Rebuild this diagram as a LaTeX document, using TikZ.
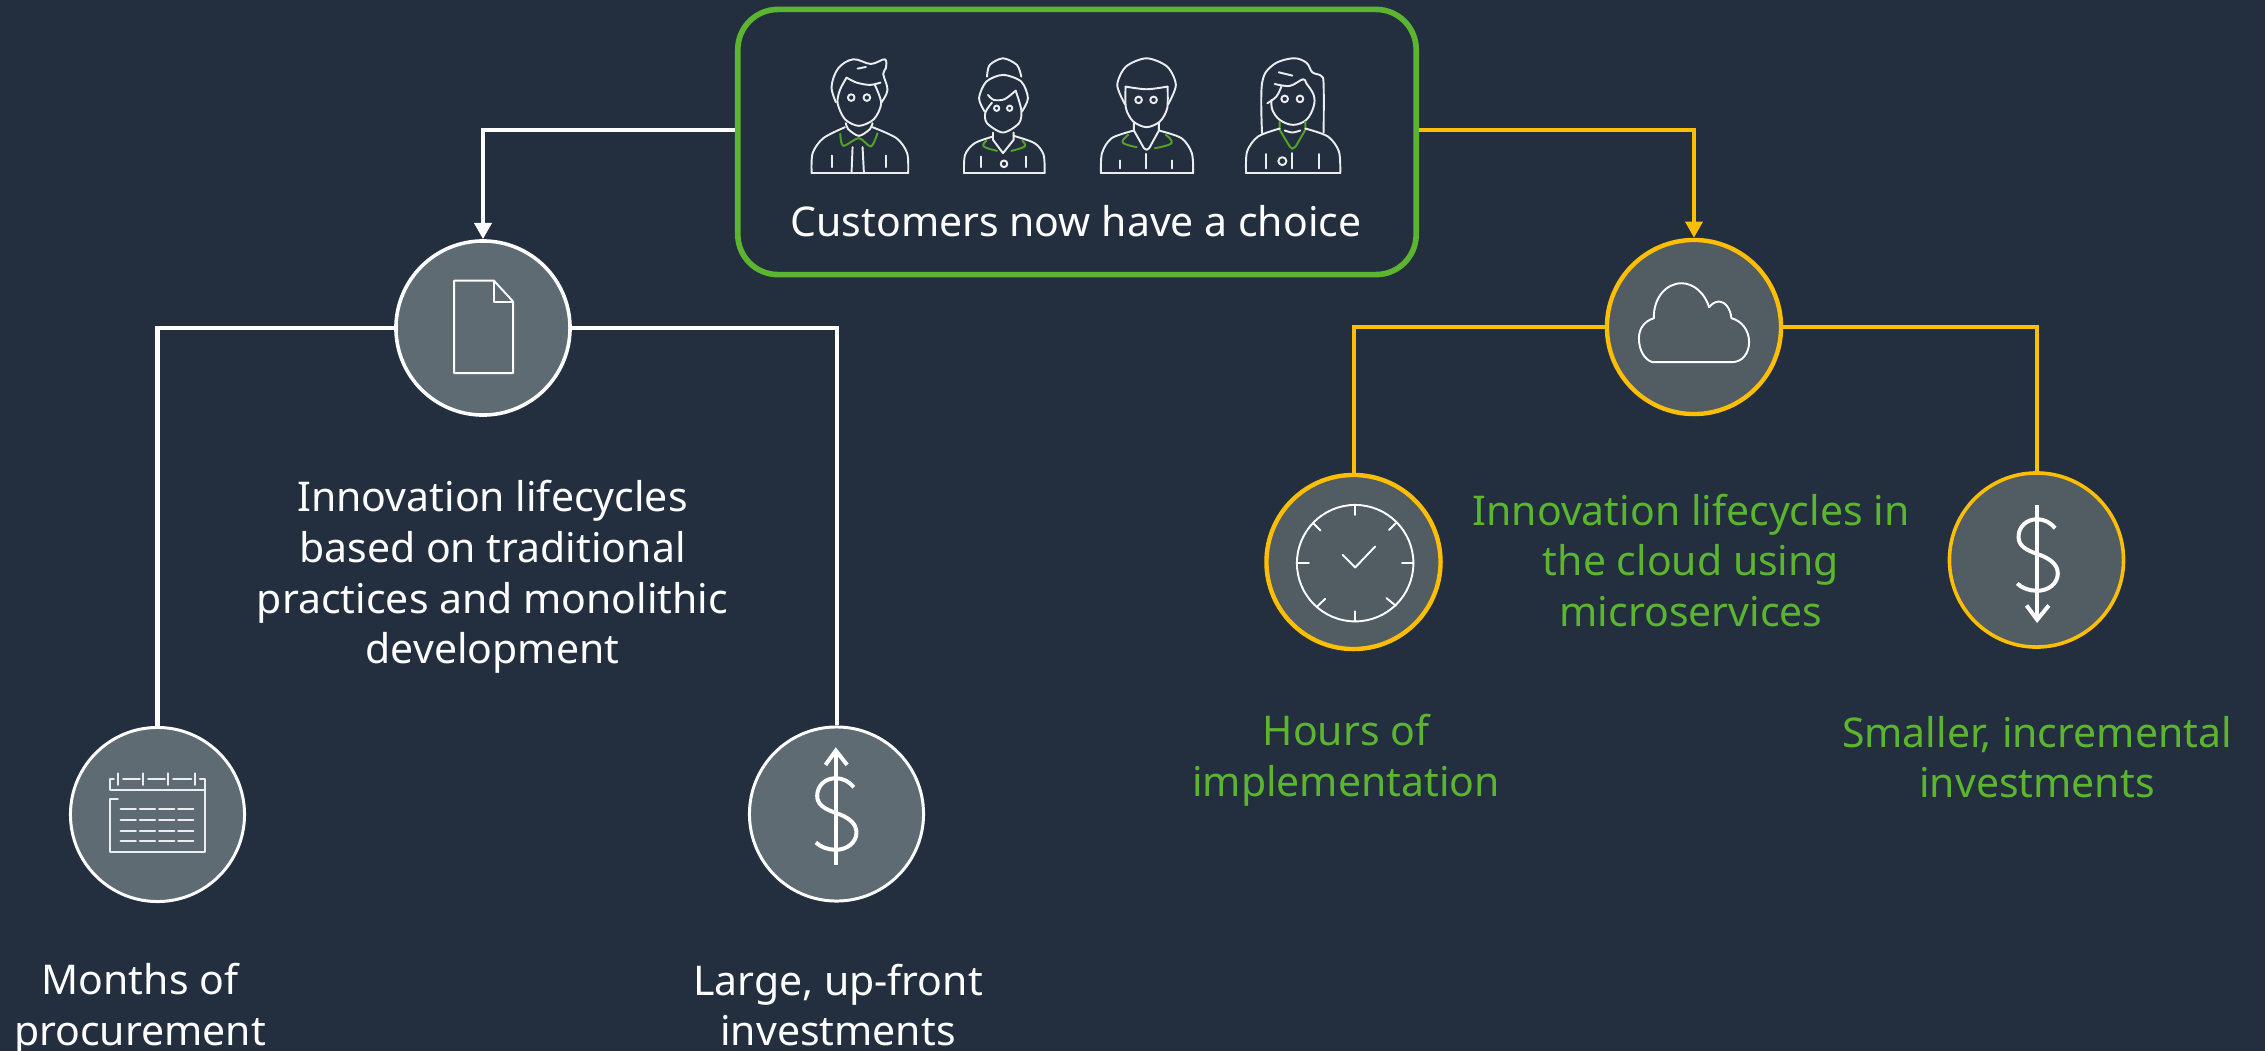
\documentclass[tikz,border=0pt]{standalone}
\usepackage{fontspec}
\setmainfont{Noto Sans}
\usetikzlibrary{arrows.meta}
\definecolor{bgink}{HTML}{232F3E}
\definecolor{awsgreen}{HTML}{5CB52F}
\definecolor{awsyellow}{HTML}{FFBE00}
\definecolor{discleft}{HTML}{5F6B73}
\definecolor{discright}{HTML}{525C63}
\definecolor{iconwhite}{HTML}{EBEDEF}
\tikzset{
  whiteline/.style={draw=white, line width=1.14pt},
  yellowline/.style={draw=awsyellow, line width=1.14pt},
  tipped/.style={-{Triangle[length=4.6pt,width=4.8pt]}},
  whitedisc/.style={circle, draw=white, fill=discleft, line width=1.02pt, minimum size=1.74cm, inner sep=0pt},
  yellowdisc/.style={circle, draw=awsyellow, fill=discright, line width=1.25pt, minimum size=1.74cm, inner sep=0pt},
  caption/.style={align=center, font=\fontsize{11.65}{14.4}\selectfont, inner sep=0pt},
  iconline/.style={draw=iconwhite, line width=0.55pt, line cap=round, line join=round},
  thickicon/.style={draw=white, line width=1.14pt},
  greenicon/.style={draw=awsgreen!90!black, line width=0.55pt, line cap=round, line join=round},
  zoomed/.style={x=0.00333cm,y=-0.00333cm}
}
\begin{document}
\begin{tikzpicture}[x=0.01cm,y=-0.01cm]
      \useasboundingbox (0,0) rectangle (2265,1051);
      \fill[bgink] (0,0) rectangle (2265,1051);
      % box and discs
      \node[draw=awsgreen, line width=1.6pt, rounded corners=11.4pt, minimum width=6.78cm, minimum height=2.65cm] (choicebox) at (1077,142) {};
      \node[whitedisc] (docdisc) at (483,328) {};
      \node[whitedisc, line width=0.85pt] (caldisc) at (157.5,814.5) {};
      \node[whitedisc, line width=0.85pt] (updisc) at (836.5,814) {};
      \node[yellowdisc] (clouddisc) at (1694,327) {};
      \node[yellowdisc] (clockdisc) at (1353.5,562) {};
      \node[yellowdisc, line width=1.02pt] (downdisc) at (2036.5,560) {};
      % connectors
      \draw[whiteline, tipped] (choicebox.west |- 0,130) -| (docdisc.north);
      \draw[whiteline] (docdisc.west) -| (caldisc.north);
      \draw[whiteline] (docdisc.east) -| (updisc.north);
      \draw[yellowline, tipped] (choicebox.east |- 0,130) -| (clouddisc.north);
      \draw[yellowline] (clouddisc.west) -| (clockdisc.north);
      \draw[yellowline] (clouddisc.east) -| (downdisc.north);
      % texts
      \node[caption, text=white] (choicetext) at (1076,221) {Customers now have a choice};
      \node[caption, text=white] (lefttext) at (492.5,577) {Innovation lifecycles\\based on traditional\\practices and monolithic\\development};
      \node[caption, text=awsgreen] (righttext) at (1691,560.5) {Innovation lifecycles in\\the cloud using\\microservices};
      \node[caption, text=white] (monthstext) at (140,1009) {Months of\\procurement};
      \node[caption, text=white] (largetext) at (838,1005) {Large, up-front\\investments};
      \node[caption, text=awsgreen] (hourstext) at (1346,760) {Hours of\\implementation};
      \node[caption, text=awsgreen] (smalltext) at (2037,757) {Smaller, incremental\\investments};
      % first person
      \begin{scope}[shift={(790,40)},zoomed]
        \draw[iconline] (65,400) -- (355,400);
        \draw[iconline] plot[smooth] coordinates {(65,400) (68,340) (100,295) (165,262)};
        \draw[iconline] plot[smooth] coordinates {(355,400) (352,340) (320,295) (248,262)};
        \draw[iconline] plot[smooth] coordinates {(168,250) (175,268) (207,288) (240,268) (248,250)};
        \draw[iconline] plot[smooth] coordinates {(170,113) (150,150) (143,190) (165,238) (207,258) (252,238) (274,190) (255,135)};
        \draw[iconline] plot[smooth] coordinates {(170,113) (200,128) (240,135) (272,128)};
        \draw[iconline] plot[smooth,tension=.6] coordinates {(138,187) (125,140) (145,85) (190,58) (243,72) (285,58) (288,85) (280,102) (293,150) (275,187)};
        \draw[iconline] (203,86) -- (228,81);
        \draw[iconline] (184,173) circle (10) (231,173) circle (10);
        \draw[greenicon] plot[smooth,tension=.5] coordinates {(151,282) (160,318) (207,295) (243,320) (263,280)};
        \draw[iconline] (188,322) -- (185,398) (218,322) -- (222,398);
        \draw[iconline] (126,347) -- (126,382) (289,347) -- (289,382);
      % second person
        \draw[iconline] plot[smooth] coordinates {(592,110) (600,75) (640,55) (682,75) (695,110)};
        \draw[iconline] plot[smooth] coordinates {(585,215) (568,175) (590,125) (640,105) (695,125) (715,175) (697,215)};
        \draw[iconline] plot[smooth] coordinates {(607,188) (587,218) (592,250) (640,278) (688,250) (695,210) (678,152)};
        \draw[iconline] plot[smooth] coordinates {(595,165) (612,180) (645,178) (678,152)};
        \draw[iconline] (621,205) circle (8) (660,205) circle (8);
        \draw[iconline] (610,278) -- (610,300) -- (640,340) -- (672,300) -- (672,278);
        \draw[iconline] (523,400) -- (765,400);
        \draw[iconline] plot[smooth] coordinates {(523,400) (526,345) (555,310) (610,290)};
        \draw[iconline] plot[smooth] coordinates {(765,400) (762,345) (735,310) (672,288)};
        \draw[greenicon] plot[smooth,tension=.7] coordinates {(590,303) (582,320) (622,333)};
        \draw[greenicon] plot[smooth,tension=.7] coordinates {(698,303) (705,320) (665,333)};
        \draw[iconline] (573,350) -- (573,382) (708,350) -- (708,382);
        \draw[iconline] (643,372) circle (10);
      \end{scope}
      % third and fourth person
      \begin{scope}[shift={(1090,40)},zoomed]
        \draw[iconline] plot[smooth] coordinates {(105,193) (82,135) (108,80) (170,55) (232,80) (258,135) (235,193)};
        \draw[iconline] plot[smooth] coordinates {(107,140) (170,148) (233,140)};
        \draw[iconline] plot[smooth] coordinates {(107,140) (108,205) (130,245) (170,262) (210,245) (232,205) (233,140)};
        \draw[iconline] (146,180) circle (10) (191,180) circle (10);
        \draw[iconline] (132,250) -- (132,272) -- (162,325) -- (170,330) -- (178,325) -- (207,272) -- (207,250);
        \draw[iconline] (33,400) -- (310,400);
        \draw[iconline] plot[smooth] coordinates {(33,400) (36,340) (65,295) (132,272)};
        \draw[iconline] plot[smooth] coordinates {(310,400) (306,340) (275,295) (207,272)};
        \draw[greenicon] plot[smooth,tension=.7] coordinates {(115,285) (98,308) (140,322)};
        \draw[greenicon] plot[smooth,tension=.7] coordinates {(228,285) (245,310) (195,325)};
        \draw[iconline] (91,362) -- (91,386) (169,342) -- (169,386) (246,362) -- (246,386);
        \draw[iconline] plot[smooth,tension=.6] coordinates {(517,280) (517,130) (550,75) (610,55) (650,68) (668,97) (695,108) (702,135) (702,278)};
        \draw[iconline] (567,97) -- (608,107);
        \draw[iconline] plot[smooth,tension=.6] coordinates {(555,132) (600,138) (640,118) (650,130) (672,165) (672,200) (650,240) (610,255) (570,240) (548,210) (545,180)};
        \draw[iconline] plot[smooth,tension=.6] coordinates {(575,140) (560,170) (533,190)};
        \draw[iconline] (585,177) circle (10) (631,177) circle (10);
        \draw[iconline] plot[smooth] coordinates {(585,272) (608,278) (632,272)};
        \draw[greenicon] (570,245) -- (570,270) -- (600,320) -- (608,327) -- (618,320) -- (647,270) -- (647,245);
        \draw[iconline] (469,400) -- (752,400);
        \draw[iconline] plot[smooth] coordinates {(469,400) (472,335) (505,290) (570,266)};
        \draw[iconline] plot[smooth] coordinates {(752,400) (748,335) (715,290) (647,266)};
        \draw[iconline] (528,343) -- (528,386) (608,340) -- (608,386) (688,343) -- (688,386);
        \draw[iconline] (578,364) circle (12);
      \end{scope}
      % document
      \begin{scope}[shift={(380,220)},zoomed]
        \draw[iconline, draw=white] (223,182) -- (342,182) -- (400,245) -- (400,460) -- (223,460) -- cycle;
        \draw[iconline, draw=white] (342,182) -- (342,245) -- (400,245);
      \end{scope}
      % calendar
      \begin{scope}[shift={(50,710)},zoomed]
        \draw[iconline] (204,267) -- (181,267) -- (181,428) -- (465,428) -- (465,208) -- (450,208);
        \draw[iconline] (192,208) -- (181,208) -- (181,240) -- (465,240);
        \draw[iconline] (220,207) -- (270,207) (295,207) -- (345,207) (370,207) -- (425,207);
        \foreach \tx in {204,280,355,437}
          \draw[iconline] (\tx,190) -- (\tx,225);
        \foreach \ry in {297,330,363,395}
          \foreach \cx in {212,270,328,385}
            \draw[iconline] (\cx,\ry) -- (\cx+46,\ry);
      \end{scope}
      % dollar going up
      \begin{scope}[shift={(730,710)},zoomed]
        \draw[thickicon] (318,122) -- (318,465);
        \draw[thickicon] (287,165) -- (318,122) -- (352,165);
        \draw[thickicon] (372,232) .. controls (358,215) and (340,205) .. (318,205) .. controls (285,205) and (262,228) .. (262,258) .. controls (262,285) and (285,298) .. (320,310) .. controls (355,322) and (380,340) .. (380,368) .. controls (380,398) and (352,420) .. (318,420) .. controls (295,420) and (272,412) .. (258,398);
      \end{scope}
      % dollar going down
      \begin{scope}[shift={(1930,460)},zoomed]
        \draw[thickicon] (322,135) -- (322,480);
        \draw[thickicon] (290,437) -- (322,480) -- (357,437);
        \draw[thickicon] (376,205) .. controls (362,188) and (344,178) .. (322,178) .. controls (289,178) and (266,201) .. (266,231) .. controls (266,258) and (289,271) .. (324,283) .. controls (359,295) and (384,313) .. (384,341) .. controls (384,371) and (356,393) .. (322,393) .. controls (299,393) and (276,385) .. (262,371);
      \end{scope}
      % clock
      \begin{scope}[shift={(1250,460)},zoomed]
        \draw[iconline, draw=white] (316,310) circle (175);
        \draw[iconline, draw=white] (316,135) -- (316,165) (316,455) -- (316,485) (140,310) -- (177,310) (457,310) -- (491,310);
        \draw[iconline, draw=white] (190,190) -- (212,212) (440,188) -- (418,210) (202,440) -- (226,417) (438,438) -- (410,415);
        \draw[iconline, draw=white] (278,285) -- (316,323) -- (376,260);
      \end{scope}
      % cloud
      \begin{scope}[shift={(1590,225)},zoomed]
        \draw[iconline, draw=white] (187,412) -- (427,412) .. controls (458,412) and (478,385) .. (478,352) .. controls (478,315) and (455,288) .. (425,280) .. controls (422,250) and (405,230) .. (388,230) .. controls (375,230) and (365,238) .. (358,247) .. controls (345,205) and (312,175) .. (275,175) .. controls (228,175) and (190,220) .. (192,280) .. controls (165,288) and (147,310) .. (147,340) .. controls (147,378) and (165,405) .. (187,412) -- cycle;
      \end{scope}
\end{tikzpicture}
\end{document}
